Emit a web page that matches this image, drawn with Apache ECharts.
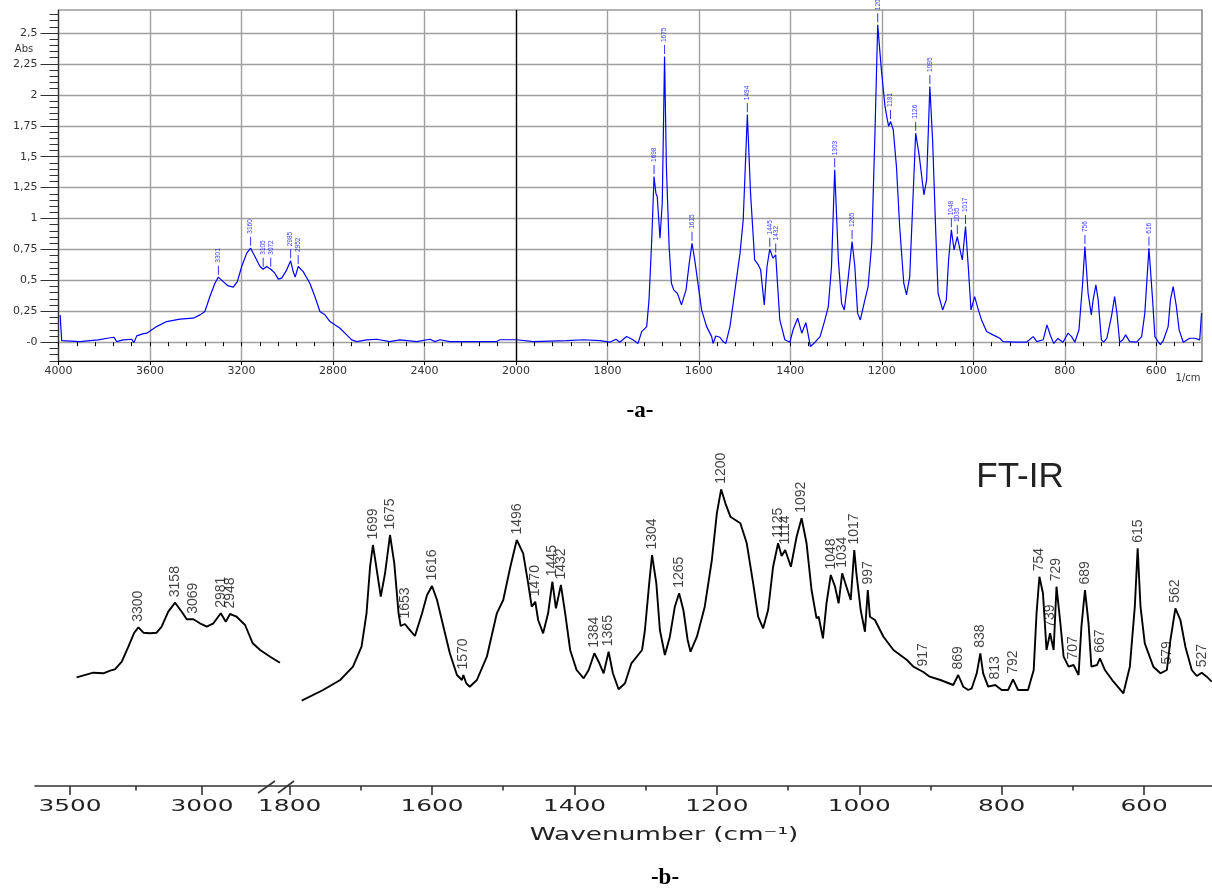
<!DOCTYPE html>
<html>
<head>
<meta charset="utf-8">
<title>FT-IR</title>
<script src="https://cdn.jsdelivr.net/npm/echarts@6/dist/echarts.min.js"></script>
<style>
  html, body { margin: 0; padding: 0; background: #fff; }
  #chart { width: 1212px; height: 892px; }
</style>
</head>
<body>
<div id="chart"></div>
<script>
// -a- absorbance spectrum: [wavenumber, Abs]
const aSpectrum = [
  [3993, 0.221], [3986, 0.013], [3906, 0.005], [3862, 0.013], [3826, 0.019], [3787, 0.032], [3757, 0.04],
  [3746, 0.005], [3717, 0.019], [3680, 0.024], [3670, -0.003], [3658, 0.051], [3632, 0.067], [3614, 0.073],
  [3571, 0.126], [3527, 0.167], [3469, 0.186], [3411, 0.194], [3381, 0.221], [3360, 0.248], [3338, 0.369],
  [3316, 0.477], [3301, 0.526], [3280, 0.49], [3258, 0.455], [3236, 0.445], [3218, 0.49], [3199, 0.612],
  [3177, 0.72], [3160, 0.76], [3141, 0.693], [3119, 0.612], [3105, 0.59], [3090, 0.612], [3072, 0.59],
  [3054, 0.558], [3039, 0.51], [3024, 0.518], [3002, 0.585], [2985, 0.658], [2974, 0.571], [2965, 0.526],
  [2952, 0.612], [2930, 0.571], [2901, 0.477], [2879, 0.369], [2857, 0.248], [2835, 0.221], [2813, 0.167],
  [2769, 0.113], [2740, 0.059], [2718, 0.019], [2696, 0.005], [2653, 0.019], [2609, 0.024], [2551, 0.005],
  [2507, 0.019], [2434, 0.005], [2376, 0.024], [2354, 0.005], [2332, 0.02], [2289, 0.005], [2084, 0.005],
  [2070, 0.02], [1998, 0.02], [1962, 0.005], [1889, 0.013], [1853, 0.02], [1816, 0.013], [1795, 0],
  [1781, 0.024], [1773, 0], [1758, 0.046], [1744, 0.02], [1733, -0.01], [1725, 0.086], [1714, 0.126],
  [1709, 0.342], [1703, 0.828], [1698, 1.34], [1694, 1.205], [1691, 1.178], [1685, 0.84], [1680, 1.125],
  [1675, 2.31], [1671, 1.42], [1665, 0.773], [1660, 0.477], [1655, 0.423], [1647, 0.396], [1638, 0.302],
  [1628, 0.423], [1621, 0.639], [1615, 0.8], [1609, 0.666], [1601, 0.45], [1594, 0.261], [1583, 0.126],
  [1572, 0.045], [1569, -0.01], [1563, 0.05], [1554, 0.04], [1547, 0.005], [1541, -0.01], [1532, 0.126],
  [1525, 0.315], [1519, 0.477], [1510, 0.72], [1503, 0.99], [1494, 1.84], [1487, 1.205], [1478, 0.666],
  [1470, 0.625], [1465, 0.585], [1457, 0.302], [1451, 0.612], [1445, 0.752], [1438, 0.68], [1432, 0.706],
  [1423, 0.18], [1412, 0.02], [1401, 0], [1394, 0.1], [1384, 0.194], [1375, 0.073], [1366, 0.159],
  [1356, -0.035], [1346, 0], [1335, 0.045], [1325, 0.172], [1317, 0.288], [1310, 0.612], [1303, 1.394],
  [1295, 0.666], [1288, 0.315], [1282, 0.261], [1274, 0.504], [1265, 0.814], [1259, 0.612], [1253, 0.235],
  [1247, 0.18], [1237, 0.342], [1230, 0.45], [1222, 0.8], [1215, 1.69], [1209, 2.567], [1201, 2.203],
  [1193, 1.906], [1188, 1.8], [1185, 1.745], [1181, 1.785], [1175, 1.718], [1168, 1.42], [1161, 0.935],
  [1152, 0.477], [1146, 0.383], [1139, 0.531], [1132, 1.151], [1126, 1.69], [1118, 1.502], [1108, 1.192],
  [1102, 1.313], [1095, 2.068], [1089, 1.637], [1082, 0.882], [1077, 0.396], [1067, 0.261], [1059, 0.342],
  [1054, 0.666], [1048, 0.909], [1042, 0.747], [1035, 0.854], [1029, 0.747], [1024, 0.666], [1017, 0.935],
  [1011, 0.612], [1005, 0.261], [997, 0.369], [989, 0.261], [982, 0.18], [971, 0.086], [957, 0.059],
  [942, 0.032], [935, 0.005], [906, 0], [884, 0], [869, 0.045], [861, 0.005], [847, 0.02], [839, 0.14],
  [831, 0.05], [824, -0.01], [815, 0.03], [804, 0], [793, 0.073], [785, 0.045], [778, 0], [769, 0.1],
  [761, 0.477], [756, 0.773], [749, 0.396], [742, 0.221], [738, 0.342], [732, 0.464], [727, 0.342],
  [720, 0.019], [715, 0], [708, 0.032], [698, 0.207], [691, 0.369], [686, 0.235], [680, 0], [673, 0.02],
  [667, 0.059], [658, 0.005], [643, 0], [632, 0.045], [625, 0.235], [616, 0.76], [608, 0.342], [603, 0.045],
  [596, 0.005], [591, -0.02], [585, 0.01], [574, 0.126], [569, 0.342], [563, 0.45], [556, 0.288], [550, 0.1],
  [541, 0], [527, 0.032], [516, 0.032], [505, 0.019], [501, 0.235]
];
// peaks tagged on the -a- trace
const aPeaks = [3301, 3160, 3105, 3072, 2985, 2952, 1698, 1675, 1615, 1494, 1445, 1432, 1303, 1265,
  1209, 1181, 1126, 1095, 1048, 1035, 1017, 756, 616];
const aTickWn = [4000, 3600, 3200, 2800, 2400, 2000, 1800, 1600, 1400, 1200, 1000, 800, 600];
const aAbsTicks = [0, 0.25, 0.5, 0.75, 1, 1.25, 1.5, 1.75, 2, 2.25, 2.5];

// -b- FT-IR trace (arbitrary height), high and low wavenumber pieces
const bHigh = [
  [3475, 108.7], [3412, 113.3], [3374, 112.7], [3348, 115.3], [3330, 116.7], [3304, 124.3], [3279, 139.3],
  [3258, 152.7], [3241, 158.7], [3222, 153.3], [3197, 152.7], [3172, 153.3], [3153, 159.3], [3128, 174.3],
  [3102, 183.3], [3077, 174.3], [3058, 166.7], [3033, 166.7], [3008, 162.7], [2982, 159.3], [2957, 162.7],
  [2929, 172.7], [2910, 164.3], [2894, 172], [2869, 169.3], [2837, 161], [2808, 142.7], [2780, 136],
  [2742, 129.3], [2705, 123.3]
];
const bLow = [
  [1783, 85.3], [1753, 96], [1729, 106], [1711, 119.3], [1699, 139.3], [1692, 172.7], [1687, 219.3],
  [1683, 241], [1679, 222.7], [1672, 189.3], [1666, 212.7], [1659, 251], [1653, 222.7], [1647, 172.7],
  [1644, 160], [1638, 162], [1632, 156.7], [1624, 150], [1614, 172.7], [1607, 191], [1600, 200],
  [1593, 186], [1584, 159.3], [1575, 132.7], [1565, 111], [1558, 106], [1556, 111], [1552, 102.7],
  [1547, 99.3], [1537, 106], [1523, 129.3], [1509, 172.7], [1500, 186], [1490, 219.3], [1481, 246],
  [1472, 232.7], [1465, 202.7], [1460, 179.3], [1455, 184.3], [1451, 166], [1444, 152.7], [1437, 172.7],
  [1431, 204.3], [1426, 177.7], [1419, 201], [1413, 172.7], [1406, 136], [1397, 116], [1387, 107.7],
  [1380, 116], [1372, 132.7], [1366, 124.3], [1359, 112.7], [1352, 134.3], [1346, 112.7], [1338, 96.7],
  [1329, 102.7], [1320, 122.7], [1305, 136], [1301, 156], [1295, 202.7], [1291, 231], [1285, 202.7],
  [1280, 156], [1273, 131], [1266, 149.3], [1259, 179.3], [1253, 192.7], [1247, 176], [1241, 146],
  [1237, 134.3], [1228, 149.3], [1217, 179.3], [1207, 226], [1200, 272.7], [1194, 296.7], [1188, 282.7],
  [1181, 269.3], [1167, 262.7], [1158, 242.7], [1149, 202.7], [1142, 169.3], [1135, 157.7], [1128, 176],
  [1121, 219.3], [1114, 242.7], [1109, 230], [1104, 236], [1096, 219.3], [1088, 249.3], [1081, 267.7],
  [1074, 242.7], [1067, 196], [1060, 167.7], [1057, 169.3], [1051, 147.7], [1046, 182.7], [1040, 211],
  [1034, 199.3], [1029, 182.7], [1024, 212.7], [1018, 199.3], [1012, 186], [1007, 236], [1004, 212.7],
  [998, 176], [992, 154.3], [988, 196], [985, 169.3], [978, 166], [966, 149.3], [952, 136], [933, 126],
  [924, 119.3], [910, 114], [901, 109.3], [886, 106], [868, 101], [861, 111], [854, 99.3], [847, 96],
  [842, 97.7], [835, 112.7], [830, 132.7], [826, 112.7], [819, 99.3], [809, 101], [800, 96], [791, 96],
  [784, 106.7], [777, 96], [763, 96], [755, 116], [751, 172.7], [747, 209.3], [742, 192.7], [737, 136],
  [732, 152.7], [727, 136], [723, 199.3], [718, 166], [713, 129.3], [706, 119.3], [699, 121], [692, 111],
  [688, 159.3], [683, 196], [678, 162.7], [674, 119.3], [666, 121], [662, 127.7], [655, 116], [643, 104.3],
  [629, 92.7], [620, 119.3], [613, 179.3], [609, 237.7], [605, 179.3], [599, 142.7], [587, 119.3],
  [577, 112.7], [568, 116], [563, 146], [556, 177.7], [549, 166], [542, 139.3], [533, 116], [526, 110],
  [519, 113.3], [512, 109.3], [505, 104.3]
];
// peak labels of -b-: [text, wavenumber on the drawn axis]
const bPeaks = [
  ['3300', 3241], ['3158', 3102], ['3069', 3033], ['2981', 2929], ['2948', 2894],
  ['1699', 1683], ['1675', 1659], ['1653', 1638], ['1616', 1600], ['1570', 1556], ['1496', 1481],
  ['1470', 1455], ['1445', 1431], ['1432', 1419], ['1384', 1372], ['1365', 1352], ['1304', 1291],
  ['1265', 1253], ['1200', 1194], ['1125', 1114], ['1114', 1104], ['1092', 1081], ['1048', 1040],
  ['1034', 1024], ['1017', 1007], ['997', 988], ['917', 910], ['869', 861], ['838', 830], ['813', 809],
  ['792', 784], ['754', 747], ['739', 732], ['729', 723], ['707', 699], ['689', 683], ['667', 662],
  ['615', 609], ['579', 568], ['562', 556], ['527', 519]
];
const bTickWn = [3500, 3000, 1800, 1600, 1400, 1200, 1000, 800, 600];
const bMinorWn = [3250, 1700, 1500, 1300, 1100, 900, 700];

const blue = '#0000ff';
const gridGrey = '#a0a0a0';

// -a- axis: 4000-2000 at half the scale of 2000-500
function posA(w) { return w >= 2000 ? (4000 - w) / 2 : 1000 + (2000 - w); }
function wnA(p) { return p <= 1000 ? 4000 - 2 * p : 3000 - p; }
// -b- axis: squeezed high range, broken, then 1800-500
function posB(w) { return w > 2000 ? 49.2 + (3500 - w) * 0.3708 : 357.6 + (1800 - w); }

function nearest(points, wn) {
  let best = points[0];
  points.forEach(pt => { if (Math.abs(pt[0] - wn) < Math.abs(best[0] - wn)) best = pt; });
  return best;
}

// minor tick positions
const aMinorPos = [];
for (let p = 0; p <= 2480; p += 40) aMinorPos.push(p);
const aMinorAbs = [];
for (let i = -3; i <= 53; i++) aMinorAbs.push(+(i * 0.05).toFixed(2));

const chart = echarts.init(document.getElementById('chart'));

chart.setOption({
  animation: false,
  backgroundColor: '#fff',
  grid: [
    { left: 58.5, top: 10, width: 1143.5, height: 351, show: true, borderColor: '#666', borderWidth: 1.2,
      backgroundColor: 'transparent', outerBoundsMode: 'none' },
    { left: 35, top: 440, width: 1177, height: 346, outerBoundsMode: 'none' }
  ],
  xAxis: [
    {
      gridIndex: 0, type: 'value', min: 0, max: 2500, position: 'bottom',
      axisLine: { show: true, onZero: false, lineStyle: { color: '#000', width: 1.2 } },
      axisTick: { show: true, customValues: aTickWn.map(posA), length: 4, lineStyle: { color: '#000' } },
      axisLabel: {
        customValues: aTickWn.map(posA), formatter: v => String(Math.round(wnA(v))),
        margin: 5, fontSize: 11, fontFamily: 'DejaVu Sans', color: '#333'
      },
      splitLine: { show: true, lineStyle: { color: gridGrey, width: 1.4 } }
    },
    {
      gridIndex: 0, type: 'value', min: 0, max: 2500, position: 'bottom',
      axisLine: { show: false },
      axisTick: { show: true, customValues: aMinorPos, length: 4, lineStyle: { color: '#000' } },
      axisLabel: { show: false }, splitLine: { show: false }
    },
    {
      gridIndex: 1, type: 'value', min: 0, max: 1653, position: 'bottom',
      axisLine: { show: true, onZero: false, lineStyle: { color: '#333', width: 1.6 } },
      axisTick: { show: true, customValues: bTickWn.map(posB), length: 9, lineStyle: { color: '#333', width: 1.6 } },
      axisLabel: { show: false }, splitLine: { show: false }
    },
    {
      gridIndex: 1, type: 'value', min: 0, max: 1653, position: 'bottom',
      axisLine: { show: false },
      axisTick: { show: true, customValues: bMinorWn.map(posB), length: 4.5, lineStyle: { color: '#333', width: 1.6 } },
      axisLabel: { show: false }, splitLine: { show: false }
    }
  ],
  yAxis: [
    {
      gridIndex: 0, type: 'value', min: -0.152, max: 2.686, position: 'left',
      axisLine: { show: true, onZero: false, lineStyle: { color: '#333', width: 1.2 } },
      axisTick: { show: true, customValues: aAbsTicks, length: 18, lineStyle: { color: '#333' } },
      axisLabel: {
        customValues: aAbsTicks,
        formatter: v => v === 0 ? '-0' : String(+v.toFixed(2)).replace('.', ','),
        margin: 21, fontSize: 11, fontFamily: 'DejaVu Sans', color: '#333'
      },
      splitLine: { show: true, lineStyle: { color: gridGrey, width: 1.4 } }
    },
    {
      gridIndex: 0, type: 'value', min: -0.152, max: 2.686, position: 'left',
      axisLine: { show: false },
      axisTick: { show: true, customValues: aMinorAbs, length: 9, lineStyle: { color: '#333' } },
      axisLabel: { show: false }, splitLine: { show: false }
    },
    { gridIndex: 1, type: 'value', min: 0, max: 346, show: false }
  ],
  series: [
    {
      type: 'line', xAxisIndex: 0, yAxisIndex: 0, symbol: 'none', z: 3,
      data: aSpectrum.map(([w, a]) => [posA(w), a]),
      lineStyle: { color: blue, width: 1.2 },
      markLine: {
        silent: true, symbol: ['none', 'none'], label: { show: false },
        lineStyle: { color: '#000', width: 1.3, type: 'solid' },
        data: [{ xAxis: posA(2000) }]
      }
    },
    {
      type: 'scatter', xAxisIndex: 0, yAxisIndex: 0, z: 4,
      data: aPeaks.map(w => {
        const pt = nearest(aSpectrum, w);
        return { name: String(w), value: [posA(pt[0]), pt[1]] };
      }),
      symbol: 'rect', symbolSize: [1, 9], symbolOffset: [0, -7],
      itemStyle: { color: blue },
      label: {
        show: true, position: 'top', distance: 3, rotate: 90, align: 'left', verticalAlign: 'middle',
        formatter: '{b}', fontSize: 6.5, fontFamily: 'Liberation Sans', color: blue
      }
    },
    {
      type: 'line', xAxisIndex: 2, yAxisIndex: 2, symbol: 'none',
      data: bHigh.map(([w, h]) => [posB(w), h]),
      lineStyle: { color: '#000', width: 1.9 }
    },
    {
      type: 'line', xAxisIndex: 2, yAxisIndex: 2, symbol: 'none',
      data: bLow.map(([w, h]) => [posB(w), h]),
      lineStyle: { color: '#000', width: 1.9 }
    },
    {
      type: 'scatter', xAxisIndex: 2, yAxisIndex: 2, z: 4,
      data: bPeaks.map(([text, w]) => {
        const pt = nearest(bHigh.concat(bLow), w);
        return { name: text, value: [posB(pt[0]), pt[1]] };
      }),
      symbolSize: 1, itemStyle: { color: 'rgba(0,0,0,0)' },
      label: {
        show: true, position: 'top', distance: 5, rotate: 90, align: 'left', verticalAlign: 'middle',
        formatter: '{b}', fontSize: 14, fontFamily: 'Liberation Sans', color: '#111'
      }
    }
  ]
});

// -b- tick labels and texts (wide lettering, stretched horizontally)
const texts = bTickWn.map(w => {
  const pt = chart.convertToPixel({ gridIndex: 1 }, [posB(w), 0]);
  return {
    type: 'text', x: pt[0], y: pt[1] + 21, scaleX: 1.55,
    style: { text: String(w), font: '16px "DejaVu Sans"', fill: '#222', align: 'center', verticalAlign: 'middle' }
  };
});
texts.push(
  { type: 'text', x: 664, y: 836, scaleX: 1.55,
    style: { text: 'Wavenumber (cm⁻¹)', font: '17px "DejaVu Sans"', fill: '#222', align: 'center', verticalAlign: 'middle' } },
  { type: 'text', x: 1020, y: 477,
    style: { text: 'FT-IR', font: '35px "Liberation Sans"', fill: '#222', align: 'center', verticalAlign: 'middle' } },
  { type: 'text', x: 640, y: 411,
    style: { text: '-a-', font: 'bold 23px "Liberation Serif"', fill: '#000', align: 'center', verticalAlign: 'middle' } },
  { type: 'text', x: 665, y: 878,
    style: { text: '-b-', font: 'bold 23px "Liberation Serif"', fill: '#000', align: 'center', verticalAlign: 'middle' } },
  { type: 'text', x: 24, y: 49,
    style: { text: 'Abs', font: '10px "DejaVu Sans"', fill: '#333', align: 'center', verticalAlign: 'middle' } },
  { type: 'text', x: 1188, y: 378,
    style: { text: '1/cm', font: '10px "DejaVu Sans"', fill: '#333', align: 'center', verticalAlign: 'middle' } },
  // axis break marks on -b-
  { type: 'line', shape: { x1: 258, y1: 793, x2: 275, y2: 781 }, style: { stroke: '#333', lineWidth: 1.6 } },
  { type: 'line', shape: { x1: 278, y1: 793, x2: 294, y2: 781 }, style: { stroke: '#333', lineWidth: 1.6 } }
);
chart.setOption({ graphic: { elements: texts } });
</script>
</body>
</html>
